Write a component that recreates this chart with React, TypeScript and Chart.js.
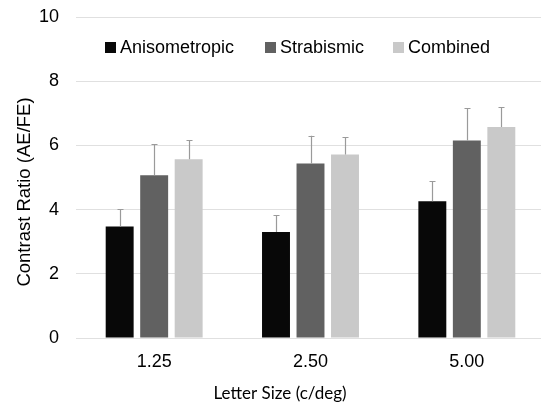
import { useEffect, useRef } from "react";
import { Chart, registerables } from "chart.js";

Chart.register(...registerables);

const categories = ["1.25", "2.50", "5.00"];
const seriesNames = ["Anisometropic", "Strabismic", "Combined"];
const seriesColors = ["#080808", "#616161", "#c9c9c9"];
const anisometropic = [3.47, 3.30, 4.26];
const strabismic = [5.07, 5.44, 6.15];
const combined = [5.57, 5.72, 6.57];
const anisometropicErr = [0.55, 0.53, 0.62];
const strabismicErr = [0.96, 0.86, 1.0];
const combinedErr = [0.59, 0.53, 0.63];
const yTitle = "Contrast Ratio (AE/FE)";
const xTitle = "Letter Size (c/deg)";
const yMin = 0;
const yMax = 10;
const yStep = 2;

const errors = [anisometropicErr, strabismicErr, combinedErr];
const values = [anisometropic, strabismic, combined];

const ARIAL = "Arial, 'Liberation Sans', Helvetica, sans-serif";

const overlayPlugin = {
  id: "overlay",
  afterDatasetsDraw(chart: any) {
    const ctx = chart.ctx as CanvasRenderingContext2D;
    const yScale = chart.scales.y;
    ctx.save();
    ctx.strokeStyle = "#9a9a9a";
    ctx.lineWidth = 1.2;
    errors.forEach((errArr, di) => {
      const meta = chart.getDatasetMeta(di);
      meta.data.forEach((bar: any, i: number) => {
        const x = Math.round(bar.x) + 0.5;
        const y0 = yScale.getPixelForValue(values[di][i]);
        const y1 = yScale.getPixelForValue(values[di][i] + errArr[i]);
        ctx.beginPath();
        ctx.moveTo(x, y0);
        ctx.lineTo(x, y1);
        ctx.moveTo(x - 3, Math.round(y1) + 0.5);
        ctx.lineTo(x + 3, Math.round(y1) + 0.5);
        ctx.stroke();
      });
    });
    ctx.restore();
  },
  afterDraw(chart: any) {
    const ctx = chart.ctx as CanvasRenderingContext2D;
    ctx.save();
    // legend
    ctx.font = `18px ${ARIAL}`;
    ctx.textBaseline = "middle";
    ctx.textAlign = "left";
    const legendX = [105, 265, 393];
    seriesNames.forEach((name, i) => {
      ctx.fillStyle = seriesColors[i];
      ctx.fillRect(legendX[i], 42, 11, 11);
      ctx.fillStyle = "#000";
      ctx.fillText(name, legendX[i] + 15, 48);
    });
    // y title
    ctx.save();
    ctx.translate(25, 192);
    ctx.rotate(-Math.PI / 2);
    ctx.textAlign = "center";
    ctx.font = `18.5px ${ARIAL}`;
    ctx.fillStyle = "#000";
    ctx.fillText(yTitle, 0, 0);
    ctx.restore();
    // x title
    ctx.textAlign = "center";
    ctx.font = `17px Lato, 'Open Sans', sans-serif`;
    ctx.fillStyle = "#000";
    ctx.fillText(xTitle, 280, 394);
    ctx.restore();
  },
};

export default function App() {
  const canvasRef = useRef<HTMLCanvasElement>(null);

  useEffect(() => {
    document.body.style.margin = "0";
    const canvas = canvasRef.current;
    if (!canvas) return;
    const chart = new Chart(canvas, {
      type: "bar",
      data: {
        labels: categories,
        datasets: seriesNames.map((name, i) => ({
          label: name,
          data: values[i],
          backgroundColor: seriesColors[i],
          borderWidth: 0,
          categoryPercentage: 0.662,
          barPercentage: 0.81,
        })),
      },
      options: {
        responsive: false,
        animation: false,
        devicePixelRatio: 1,
        layout: { padding: { top: 17, right: 15, bottom: 0, left: 0 } },
        plugins: {
          legend: { display: false },
          tooltip: { enabled: false },
          title: { display: false },
        },
        scales: {
          x: {
            grid: { display: false, drawTicks: false },
            border: { display: false },
            ticks: {
              color: "#000",
              font: { family: ARIAL, size: 18 },
              padding: 13,
            },
            afterFit: (scale: any) => {
              scale.height = 67;
            },
          },
          y: {
            min: yMin,
            max: yMax,
            grid: {
              color: "#e0e0e0",
              lineWidth: 1,
              drawTicks: true,
              tickLength: 17,
              tickColor: "rgba(0,0,0,0)",
            },
            border: { display: false },
            ticks: {
              stepSize: yStep,
              color: "#000",
              font: { family: ARIAL, size: 18 },
              padding: 0,
            },
            afterFit: (scale: any) => {
              scale.width = 76;
            },
          },
        },
      },
      plugins: [overlayPlugin],
    });
    return () => chart.destroy();
  }, []);

  return (
    <div style={{ width: 541, height: 405, overflow: "hidden", position: "relative", background: "#fff" }}>
      <canvas ref={canvasRef} width={560} height={405} style={{ display: "block" }} />
    </div>
  );
}
